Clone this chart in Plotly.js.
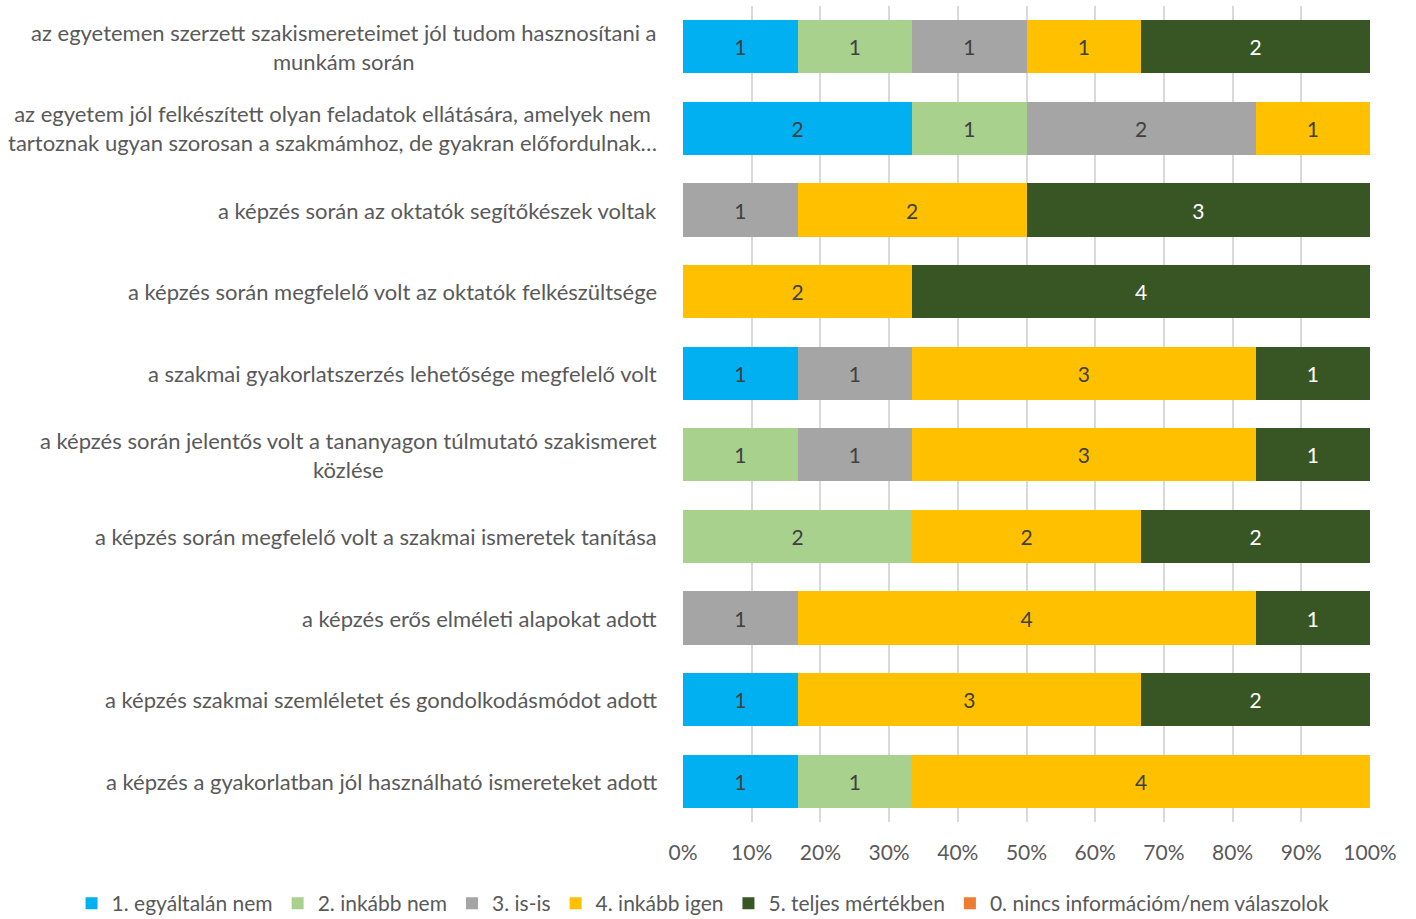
<!DOCTYPE html>
<html>
<head>
<meta charset="utf-8">
<script src="https://cdn.plot.ly/plotly-3.0.1.min.js"></script>
<style>html,body{margin:0;padding:0;background:#fff;}#chart{width:1416px;height:919px;}</style>
</head>
<body>
<div id="chart"></div>
<script>
const categories = [
  "az egyetemen szerzett szakismereteimet jól tudom hasznosítani a<br>munkám során",
  "az egyetem jól felkészített olyan feladatok ellátására, amelyek nem<br>tartoznak ugyan szorosan a szakmámhoz, de gyakran előfordulnak…",
  "a képzés során az oktatók segítőkészek voltak",
  "a képzés során megfelelő volt az oktatók felkészültsége",
  "a szakmai gyakorlatszerzés lehetősége megfelelő volt",
  "a képzés során jelentős volt a tananyagon túlmutató szakismeret<br>közlése",
  "a képzés során megfelelő volt a szakmai ismeretek tanítása",
  "a képzés erős elméleti alapokat adott",
  "a képzés szakmai szemléletet és gondolkodásmódot adott",
  "a képzés a gyakorlatban jól használható ismereteket adott"
];
const seriesNames = ["1. egyáltalán nem","2. inkább nem","3. is-is","4. inkább igen","5. teljes mértékben","0. nincs információm/nem válaszolok"];
const s1 = [1,2,0,0,1,0,0,0,1,1];
const s2 = [1,1,0,0,0,1,2,0,0,1];
const s3 = [1,2,1,0,1,1,0,1,0,0];
const s4 = [1,1,2,2,3,3,2,4,3,4];
const s5 = [2,0,3,4,1,1,2,1,2,0];
const s0 = [0,0,0,0,0,0,0,0,0,0];
const xTicks = [0,10,20,30,40,50,60,70,80,90,100];

const colors = ["#00B0F0","#A9D18E","#A5A5A5","#FFC000","#375623","#ED7D31"];
const textColors = ["#404040","#404040","#404040","#404040","#FFFFFF","#404040"];
const allSeries = [s1,s2,s3,s4,s5,s0];
const FONT = "Lato, 'Open Sans', sans-serif";

const traces = allSeries.map((vals,i)=>({
  type:'bar', orientation:'h', name:seriesNames[i],
  y:categories, x:vals,
  text: vals.map(v=> v>0 ? String(v) : ''),
  textposition:'inside', insidetextanchor:'middle', textangle:0,
  textfont:{family:FONT,size:21,color:textColors[i]},
  marker:{color:colors[i], line:{width:0}},
  hoverinfo:'none'
}));

const annotations = categories.map(c=>({
  xref:'paper', yref:'y', x:-0.035, y:c, xanchor:'right', yanchor:'middle',
  text:c, showarrow:false, align:'center',
  font:{family:FONT,size:22,color:'#595959'}
}));

const layout = {
  width:1416, height:919,
  margin:{l:683,r:46,t:6,b:97,autoexpand:false},
  paper_bgcolor:'#fff', plot_bgcolor:'#fff',
  barmode:'stack', barnorm:'percent', bargap:0.35,
  showlegend:true,
  legend:{orientation:'h', x:-0.89, xanchor:'left', y:-0.10, yanchor:'middle',
    font:{family:FONT,size:21,color:'#595959'}, traceorder:'normal', itemwidth:30, tracegroupgap:0},
  xaxis:{range:[0,100], tickvals:xTicks, ticktext:xTicks.map(t=>t+'%'), showgrid:true, gridcolor:'#D9D9D9', gridwidth:2,
    zeroline:false, showline:false, ticks:'', ticklen:0, ticklabelstandoff:16,
    tickfont:{family:FONT,size:21,color:'#595959'}, fixedrange:true},
  yaxis:{autorange:'reversed', showticklabels:false, showgrid:false, zeroline:false, showline:false, ticks:'', fixedrange:true},
  annotations:annotations,
  font:{family:FONT}
};

Plotly.newPlot('chart', traces, layout, {displayModeBar:false, staticPlot:true});
</script>
</body>
</html>
